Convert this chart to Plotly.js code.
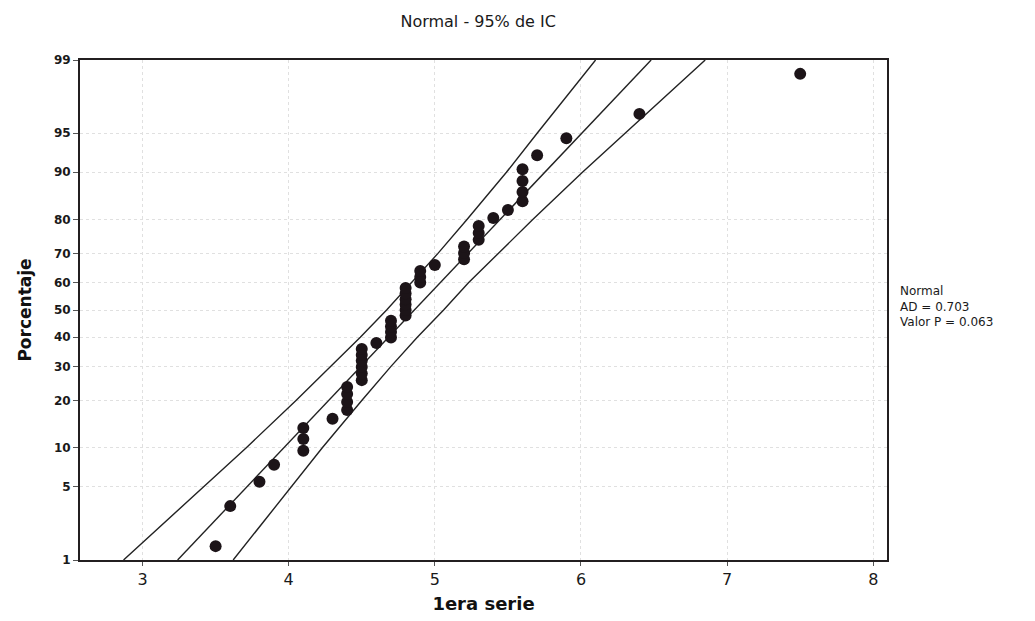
<!DOCTYPE html>
<html>
<head>
<meta charset="utf-8">
<script src="https://cdn.plot.ly/plotly-3.0.1.min.js"></script>
<style>html,body{margin:0;padding:0;background:#fff;}#chart{width:1035px;height:621px;}</style>
</head>
<body>
<div id="chart"></div>
<script>
// ---- data ----
const dataX = [3.5,3.6,3.8,3.9,4.1,4.1,4.1,4.3,4.4,4.4,4.4,4.4,4.5,4.5,4.5,4.5,4.5,4.5,4.6,4.7,4.7,4.7,4.7,
  4.8,4.8,4.8,4.8,4.8,4.8,4.9,4.9,4.9,5.0,5.2,5.2,5.2,5.3,5.3,5.3,5.4,5.5,5.6,5.6,5.6,5.6,5.7,5.9,6.4,7.5];
const dataPct = [1.4,3.4,5.5,7.5,9.5,11.5,13.6,15.6,17.6,19.6,21.7,23.7,25.7,27.7,29.8,31.8,33.8,35.8,37.9,39.9,41.9,43.9,46.0,
  48.0,50.0,52.0,54.0,56.1,58.1,60.1,62.1,64.2,66.2,68.2,70.2,72.3,74.3,76.3,78.3,80.4,82.4,84.4,86.4,88.5,90.5,92.5,94.5,96.6,98.6];
const fitPct = [1, 99];
const fitX = [3.24, 6.48];
const ciPct = [1,2,5,10,20,30,40,50,60,70,80,90,95,98,99];
const ciLowX = [2.87,3.09,3.42,3.71,4.05,4.29,4.49,4.67,4.84,5.02,5.22,5.49,5.70,5.94,6.10];
const ciHighX = [3.62,3.78,4.02,4.23,4.50,4.70,4.88,5.06,5.23,5.43,5.67,6.01,6.30,6.63,6.85];
const yTickPct = [1,5,10,20,30,40,50,60,70,80,90,95,99];
const xTickVals = [3,4,5,6,7,8];
const statsLines = ["Normal", "AD = 0.703", "Valor P = 0.063"];

// inverse standard normal CDF (probability-scale axis transform)
function norminv(p){
  const a=[-3.969683028665376e+01,2.209460984245205e+02,-2.759285104469687e+02,1.383577518672690e+02,-3.066479806614716e+01,2.506628277459239e+00];
  const b=[-5.447609879822406e+01,1.615858368580409e+02,-1.556989798598866e+02,6.680131188771972e+01,-1.328068155288572e+01];
  const c=[-7.784894002430293e-03,-3.223964580411365e-01,-2.400758277161838e+00,-2.549732539343734e+00,4.374664141464968e+00,2.938163982698783e+00];
  const d=[7.784695709041462e-03,3.224671290700398e-01,2.445134137142996e+00,3.754408661907416e+00];
  const pl=0.02425, ph=1-pl; let q,r;
  if(p<pl){q=Math.sqrt(-2*Math.log(p));return (((((c[0]*q+c[1])*q+c[2])*q+c[3])*q+c[4])*q+c[5])/((((d[0]*q+d[1])*q+d[2])*q+d[3])*q+1);}
  if(p<=ph){q=p-0.5;r=q*q;return (((((a[0]*r+a[1])*r+a[2])*r+a[3])*r+a[4])*r+a[5])*q/(((((b[0]*r+b[1])*r+b[2])*r+b[3])*r+b[4])*r+1);}
  q=Math.sqrt(-2*Math.log(1-p));return -(((((c[0]*q+c[1])*q+c[2])*q+c[3])*q+c[4])*q+c[5])/((((d[0]*q+d[1])*q+d[2])*q+d[3])*q+1);
}
const z = arr => arr.map(v => norminv(v/100));

const lineStyle = {color:'#222', width:1.4};
const traces = [
  {x: ciLowX, y: z(ciPct), mode:'lines', line: lineStyle, hoverinfo:'skip', showlegend:false},
  {x: fitX, y: z(fitPct), mode:'lines', line: lineStyle, hoverinfo:'skip', showlegend:false},
  {x: ciHighX, y: z(ciPct), mode:'lines', line: lineStyle, hoverinfo:'skip', showlegend:false},
  {x: dataX, y: z(dataPct), mode:'markers', marker:{color:'#1c1418', size:12}, showlegend:false}
];

const zmax = norminv(0.99);
const layout = {
  width:1035, height:621,
  margin:{l:80, r:148, t:60, b:61},
  paper_bgcolor:'#fff', plot_bgcolor:'#fff',
  font:{family:'DejaVu Sans, Verdana, sans-serif', color:'#1a1a1a'},
  title:{text:'Normal - 95% de IC', x:0.462, xanchor:'center', y:0.966, yanchor:'middle',
         font:{size:16, family:'DejaVu Sans, sans-serif', color:'#1a1a1a'}},
  xaxis:{range:[2.572, 8.094], tickvals:xTickVals, ticktext:xTickVals.map(String),
    showline:true, linecolor:'#231f20', linewidth:2, mirror:true,
    ticks:'outside', ticklen:4, tickcolor:'#555',
    showgrid:true, gridcolor:'#e0e0e0', griddash:'dot', gridwidth:1, zeroline:false,
    tickfont:{size:16, color:'#1a1a1a'},
    title:{text:'1era serie', standoff:9, font:{size:18, weight:'bold', color:'#111'}}},
  yaxis:{range:[-zmax, zmax], tickvals:z(yTickPct), ticktext:yTickPct.map(String),
    showline:true, linecolor:'#231f20', linewidth:2, mirror:true,
    ticks:'outside', ticklen:5, tickcolor:'#555',
    showgrid:true, gridcolor:'#e0e0e0', griddash:'dot', gridwidth:1, zeroline:false,
    tickfont:{size:12, weight:'bold', color:'#1a1a1a'},
    title:{text:'Porcentaje', standoff:18, font:{size:17, weight:'bold', color:'#111'}}},
  annotations:[{xref:'paper', yref:'paper', x:1.014, y:0.508, xanchor:'left', yanchor:'middle', align:'left',
    showarrow:false, text: statsLines.join('<br>'), font:{size:12, color:'#1a1a1a'}}]
};
Plotly.newPlot('chart', traces, layout, {displayModeBar:false, staticPlot:true});
</script>
</body>
</html>
